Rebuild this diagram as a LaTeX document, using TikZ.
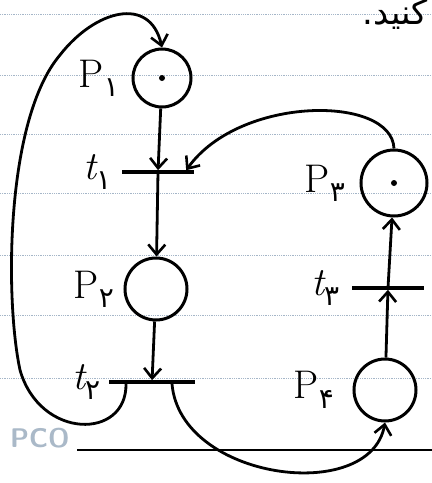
\documentclass[tikz,border=0pt]{standalone}
\usepackage{fontspec}
\usepackage{tikz}
\usetikzlibrary{arrows.meta, positioning}
\newfontfamily\arabicfont[Script=Arabic]{DejaVu Sans}
\TeXXeTstate=1
\definecolor{paperline}{RGB}{165,182,200}
\definecolor{markgray}{RGB}{170,185,200}
\newcommand{\pdig}[1]{\textsubscript{\upshape\arabicfont #1}}
\tikzset{
    pnplace/.style={circle, draw, line width=3pt, minimum size=#1, inner sep=0pt},
    pnplace/.default=60pt,
    pnbar/.style={rectangle, fill=black, minimum width=#1, minimum height=3.2pt, inner sep=0pt},
    pntoken/.style={circle, fill=black, minimum size=6pt, inner sep=0pt},
    pnarrow/.style={-{Straight Barb[length=10pt, width=17pt, line width=2.6pt]}, line width=2.8pt},
    pnlabel/.style={font=\fontsize{40}{42}\selectfont, inner sep=0pt},
    ruled/.style={paperline, densely dotted, line width=0.8pt}
}

\begin{document}
\begin{tikzpicture}[x=1pt, y=-1pt]
\useasboundingbox (0,0) rectangle (432,483);

% lined paper
\foreach \yy in {14,75,134,193,255,315,378}
    \draw[ruled] (0,\yy) -- (432,\yy);
\draw[line width=1.8pt] (77,450) -- (432,450);
\node[font=\sffamily\bfseries\fontsize{27}{27}\selectfont, text=markgray, anchor=west, inner sep=0pt] (wm) at (10,438) {PCO};
\node[font=\arabicfont\fontsize{34}{36}\selectfont, anchor=east, inner sep=0pt] (hd) at (428,14) {\beginR کنید.\endR};

% places and transitions
\node[pnplace=58pt] (p1) at (162,78) {};
\node[pntoken] (k1) at (p1) {};
\node[pnbar=72pt] (t1) at (158,172) {};
\node[pnplace=62pt] (p2) at (156,289) {};
\node[pnbar=86pt] (t2) at (152,382) {};
\node[pnplace=66pt] (p3) at (394,183) {};
\node[pntoken] (k3) at (p3) {};
\node[pnbar=72pt] (t3) at (388,288) {};
\node[pnplace=62pt] (p4) at (385,390) {};

% labels
\node[pnlabel, left=12pt of p1] (lp1) {P\pdig{۱}};
\node[pnlabel, left=10pt of t1] (lt1) {{\itshape t}\pdig{۱}};
\node[pnlabel, left=9pt of p2] (lp2) {P\pdig{۲}};
\node[pnlabel, left=8pt of t2] (lt2) {{\itshape t}\pdig{۲}};
\node[pnlabel, left=14pt of p3] (lp3) {P\pdig{۳}};
\node[pnlabel, left=12pt of t3] (lt3) {{\itshape t}\pdig{۳}};
\node[pnlabel, left=18pt of p4] (lp4) {P\pdig{۴}};

% arcs
\draw[pnarrow] (p1) -- (t1);
\draw[pnarrow] (t1) -- (p2);
\draw[pnarrow] (p2) -- (t2);
\draw[pnarrow] (p4) -- (t3);
\draw[pnarrow] (t3) -- (p3);
\draw[pnarrow] (p3.north) .. controls (392,95) and (240,95) .. ([xshift=-8pt]t1.north east);
\draw[pnarrow] ([xshift=20pt]t2.south) .. controls (180,480) and (370,505) .. (p4.south);
\draw[pnarrow] ([xshift=-26pt]t2.south) .. controls (127,440) and (40,440) .. (20,370)
    .. controls (5,300) and (5,120) .. (60,55)
    .. controls (95,10) and (150,-5) .. (p1.north);

\end{tikzpicture}
\end{document}
